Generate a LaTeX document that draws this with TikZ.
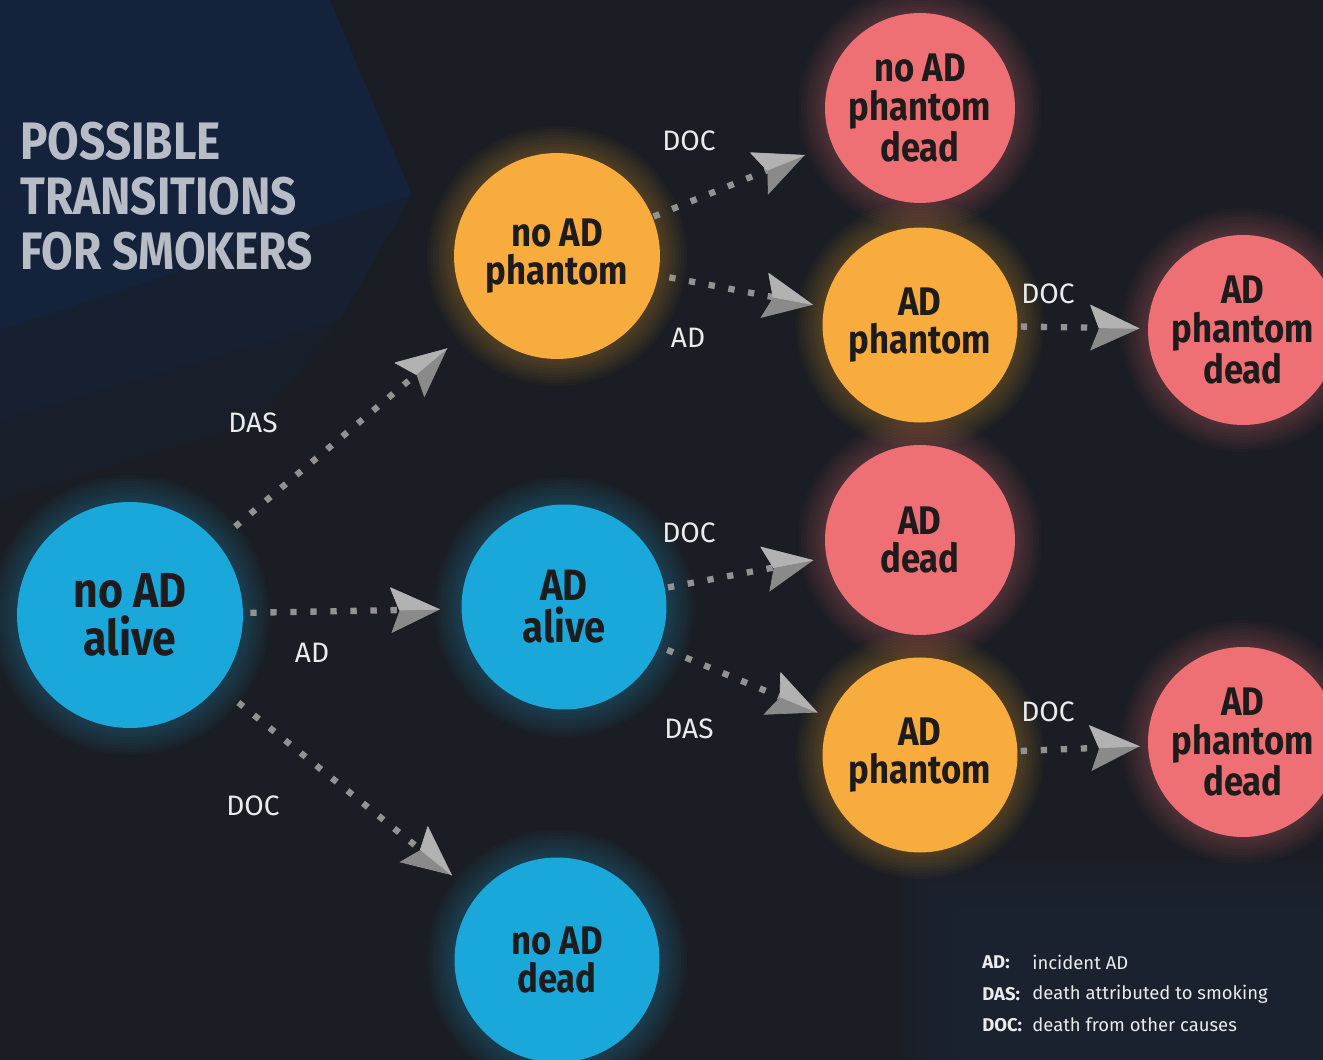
\documentclass[tikz,border=0pt]{standalone}
\usepackage{fontspec}
\setmainfont{Fira Sans}
\newfontfamily\condfont[FakeStretch=0.87]{Fira Sans}
\usetikzlibrary{arrows.meta,backgrounds}

\definecolor{bgdark}{HTML}{1A1D23}
\definecolor{navy}{HTML}{14223B}
\definecolor{legendbg}{HTML}{1B2637}
\definecolor{cyanc}{HTML}{1AA8DB}
\definecolor{orangec}{HTML}{F8AC3E}
\definecolor{pinkc}{HTML}{EF7074}
\definecolor{statetext}{HTML}{1E1B1C}
\definecolor{titlegrey}{HTML}{B7BCC6}
\definecolor{dotgrey}{HTML}{929292}
\definecolor{tipdark}{HTML}{8A8A8A}
\definecolor{tiplight}{HTML}{B2B2B2}

\tikzset{
  state/.style={circle, inner sep=0pt, align=center, text=statetext,
    font=\condfont\bfseries\fontsize{22.7}{22}\selectfont},
  alive/.style={state, fill=cyanc, minimum size=4.1cm},
  phantom/.style={state, fill=orangec, minimum size=3.9cm},
  dead/.style={state, fill=pinkc, minimum size=3.8cm},
  flowline/.style={draw=dotgrey, line width=3.6pt, dash pattern=on 3.6pt off 7.8pt,
    -{Stealth[length=28pt, width=26pt, inset=5pt, line width=0.4pt, color=tipdark, fill=tipdark]}},
  flowtip/.style={draw=dotgrey, line width=3.6pt, dash pattern=on 0pt off 400pt,
    -{Stealth[length=28pt, width=26pt, inset=5pt, line width=0.4pt, left, color=tiplight, fill=tiplight]}},
  lbl/.style={text=white!92!black, font=\fontsize{16}{18}\selectfont},
  titletext/.style={anchor=base west, inner sep=0pt, text=titlegrey,
    font=\condfont\bfseries\fontsize{30}{31}\selectfont},
  legkey/.style={anchor=west, inner sep=0pt, text=white!92!black,
    font=\bfseries\fontsize{10.5}{12}\selectfont},
  legtext/.style={anchor=west, inner sep=0pt, text=white!92!black,
    font=\fontsize{10.5}{12}\selectfont},
}

\newcommand\flowarrow[4]{%
  \draw[flowline, shorten <=#3, shorten >=#4] (#1) -- (#2);
  \draw[flowtip, shorten <=#3, shorten >=#4] (#1) -- (#2);}

\begin{document}
\begin{tikzpicture}[x=0.02cm, y=-0.02cm]
\useasboundingbox (0,0) rectangle (1323,1060);
\clip (0,0) rectangle (1323,1060);

% background
\begin{scope}[on background layer]
  \fill[bgdark] (0,0) rectangle (1323,1060);
  \fill[navy] (0,0) -- (330,0) -- (412,195) -- (0,330) -- cycle;
  \fill[navy, opacity=0.6] (0,330) -- (412,195) -- (340,320) -- (0,420) -- cycle;
  \fill[navy, opacity=0.3] (0,420) -- (340,320) -- (260,420) -- (0,500) -- cycle;
  \foreach \i in {0,...,5}
    \fill[legendbg, opacity=0.22] (900+\i*14, 860+\i*12) rectangle (1323,1060);
\end{scope}

% title
\node[titletext] (title1) at (20,160) {POSSIBLE};
\node[titletext] (title2) at (20,215) {TRANSITIONS};
\node[titletext] (title3) at (20,270) {FOR SMOKERS};

% states
\node[alive, minimum size=4.52cm, font=\condfont\bfseries\fontsize{28}{27}\selectfont]
  (noadalive) at (130,615) {no AD\\alive};
\node[alive, font=\condfont\bfseries\fontsize{25}{24}\selectfont] (adalive) at (564,607) {AD\\alive};
\node[alive] (noaddead) at (557,960) {no AD\\dead};
\node[phantom, minimum size=4.12cm] (noadph) at (557,256) {no AD\\phantom};
\node[phantom] (adphA) at (920,325) {AD\\phantom};
\node[phantom] (adphB) at (920,755) {AD\\phantom};
\node[dead] (noadphdead) at (920,108) {no AD\\phantom\\dead};
\node[dead] (addead) at (920,540) {AD\\dead};
\node[dead] (adphdeadA) at (1243,330) {AD\\phantom\\dead};
\node[dead] (adphdeadB) at (1243,742) {AD\\phantom\\dead};

% glow round the states
\begin{scope}[on background layer]
  \foreach \n/\c/\r in {noadalive/cyanc/113, adalive/cyanc/103, noaddead/cyanc/103,
      noadph/orangec/103, adphA/orangec/97, adphB/orangec/97,
      noadphdead/pinkc/95, addead/pinkc/95, adphdeadA/pinkc/95, adphdeadB/pinkc/95}
    \foreach \g in {3,6,...,27}
      \fill[\c, opacity=0.03] (\n.center) circle ({(\r+\g)*0.02cm});
\end{scope}

% transitions
\flowarrow{noadalive}{noadph}{0.48cm}{0.8cm}
\flowarrow{noadalive}{adalive}{0.14cm}{0.42cm}
\flowarrow{noadalive}{noaddead}{0.52cm}{0.64cm}
\flowarrow{noadph}{noadphdead}{0.02cm}{0.58cm}
\flowarrow{noadph}{adphA}{0.22cm}{0.22cm}
\flowarrow{adphA}{adphdeadA}{0.06cm}{0.16cm}
\flowarrow{adalive}{addead}{0.06cm}{0.26cm}
\flowarrow{adalive}{adphB}{0.18cm}{0.26cm}
\flowarrow{adphB}{adphdeadB}{0.06cm}{0.16cm}

% transition labels
\node[lbl] (lDASa) at (253,423) {DAS};
\node[lbl] (lADa) at (312,653) {AD};
\node[lbl] (lDOCa) at (253,806) {DOC};
\node[lbl] (lDOCb) at (689,141) {DOC};
\node[lbl] (lADb) at (688,338) {AD};
\node[lbl] (lDOCc) at (1048,294) {DOC};
\node[lbl] (lDOCd) at (689,533) {DOC};
\node[lbl] (lDASb) at (689,729) {DAS};
\node[lbl] (lDOCe) at (1048,712) {DOC};

% legend
\node[legkey] (kAD) at (982,962) {AD:};
\node[legtext] (tAD) at (1032,962) {incident AD};
\node[legkey] (kDAS) at (982,994) {DAS:};
\node[legtext] (tDAS) at (1032,994) {death attributed to smoking};
\node[legkey] (kDOC) at (982,1025) {DOC:};
\node[legtext] (tDOC) at (1032,1025) {death from other causes};
\end{tikzpicture}
\end{document}
